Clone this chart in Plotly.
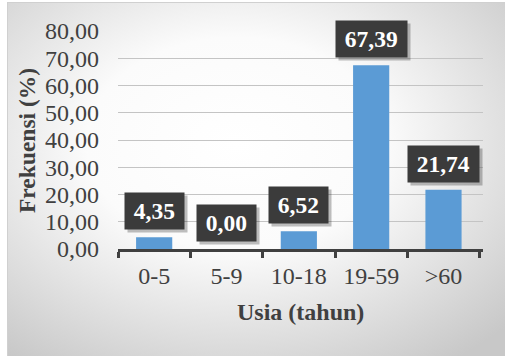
import base64
import plotly.graph_objects as go

categories = ["0-5", "5-9", "10-18", "19-59", ">60"]
values = [4.35, 0.00, 6.52, 67.39, 21.74]
y_ticks = [0, 10, 20, 30, 40, 50, 60, 70, 80]

W, H = 505, 356
L, R, T, B = 118, 22, 31, 107
pw, ph = W - L - R, H - T - B
SERIF = "Liberation Serif"

def px_x(x):
    return (x - L) / pw

def px_y(y):
    return (H - B - y) / ph

svg = f'''<svg xmlns="http://www.w3.org/2000/svg" width="498" height="354" viewBox="0 0 498 354">
<defs><radialGradient id="g" cx="0.46" cy="0.40" r="0.75">
<stop offset="0" stop-color="#ffffff"/><stop offset="0.4" stop-color="#fbfbfb"/>
<stop offset="1" stop-color="#c8c8c8"/></radialGradient></defs>
<rect x="0" y="0" width="498" height="354" fill="url(#g)"/>
<rect x="0.5" y="0.5" width="498" height="354" fill="none" stroke="#d0d0d0" stroke-width="1"/>
</svg>'''
src = "data:image/svg+xml;base64," + base64.b64encode(svg.encode()).decode()

text_col = "#404040"
fig = go.Figure(go.Bar(x=categories, y=values, marker=dict(color="#5b9bd5", line=dict(width=0)),
                       width=0.5))

annotations = []
for c, v in zip(categories, values):
    lab = f"{v:.2f}".replace(".", ",")
    w = 11.7 * len(lab) + 6
    annotations.append(dict(x=c, y=v, xref="x", yref="y", text="&nbsp;", showarrow=False,
                            yanchor="bottom", yshift=4, xshift=3, width=w, height=30,
                            bgcolor="rgba(0,0,0,0.25)", borderpad=3,
                            font=dict(family=SERIF, size=8, color="rgba(0,0,0,0)")))
    annotations.append(dict(x=c, y=v, xref="x", yref="y", text=f"<b>{lab}</b>", showarrow=False,
                            yanchor="bottom", yshift=7, width=w, height=30,
                            bgcolor="#3b3b3b", borderpad=3,
                            font=dict(family=SERIF, size=23.5, color="white")))

annotations.append(dict(x=px_x(27), y=px_y(141), xref="paper", yref="paper", text="<b>Frekuensi (%)</b>",
                        textangle=-90, showarrow=False, xanchor="center", yanchor="middle",
                        font=dict(family=SERIF, size=23.5, color=text_col)))
annotations.append(dict(x=px_x(300), y=px_y(312), xref="paper", yref="paper", text="<b>Usia (tahun)</b>",
                        showarrow=False, xanchor="center", yanchor="middle",
                        font=dict(family=SERIF, size=24, color=text_col)))

fig.update_layout(
    width=W, height=H, margin=dict(l=L, r=R, t=T, b=B, pad=0),
    paper_bgcolor="white", plot_bgcolor="rgba(0,0,0,0)",
    separators=",.",
    showlegend=False,
    font=dict(family=SERIF, size=24, color=text_col),
    images=[dict(source=src, xref="paper", yref="paper", x=px_x(7), y=px_y(2),
                 sizex=(W - 7) / pw, sizey=(H - 2) / ph, sizing="stretch",
                 xanchor="left", yanchor="top", layer="below")],
    annotations=annotations,
    bargap=0.5,
)
fig.update_xaxes(showline=True, linecolor="#404040", linewidth=2.5, ticks="outside",
                 tickson="boundaries", ticklen=6, tickwidth=2.5, tickcolor="#404040",
                 showgrid=False, ticklabelstandoff=3, tickfont=dict(family=SERIF, size=24, color=text_col))
fig.update_yaxes(range=[0, 80], tickvals=y_ticks, tickformat=".2f", showgrid=True,
                 gridcolor="#c4c4c4", gridwidth=1.2, zeroline=False, showline=False,
                 ticks="", ticklabelstandoff=18, tickfont=dict(family=SERIF, size=24, color=text_col))

fig.write_html("out.html")
